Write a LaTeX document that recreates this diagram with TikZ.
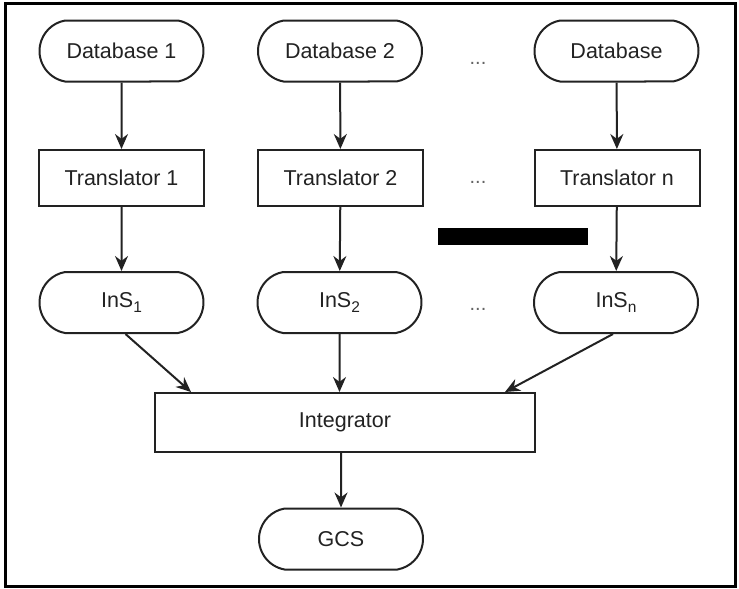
\documentclass[tikz,border=0pt]{standalone}
\usepackage{fontspec}
\setmainfont{Liberation Sans}
\usetikzlibrary{arrows.meta,shapes.misc}
\definecolor{ink}{HTML}{222222}
\newcommand{\lowsub}[1]{\raisebox{-5.5pt}{\fontsize{15.5}{16}\selectfont #1}}
\tikzset{
  x=1pt,y=-1pt,
  base/.style={draw=ink,line width=2pt,text=ink,font=\fontsize{21.5}{24}\selectfont,inner sep=0pt},
  pill/.style={base,rounded rectangle,rounded rectangle arc length=160,minimum width=164pt,minimum height=61pt},
  boxnode/.style={base,rectangle,minimum width=165pt,minimum height=56pt},
  dots/.style={text=ink!70,font=\fontsize{20}{22}\selectfont,inner sep=0pt},
  conn/.style={draw=ink,line width=2pt,-{Stealth[length=15pt,width=13pt]}}
}
\begin{document}
\begin{tikzpicture}
\useasboundingbox (0,0) rectangle (739,589);
\draw[line width=3pt] (5,3) rectangle (735,586);
% row 1
\node[pill] (db1) at (121.5,51) {Database 1};
\node[pill] (db2) at (340,51) {Database 2};
\node[pill] (dbn) at (616.5,51) {Database};
\node[dots] (d1) at (478,63) {...};
% row 2
\node[boxnode] (tr1) at (121.5,178) {Translator 1};
\node[boxnode] (tr2) at (340.5,178) {Translator 2};
\node[boxnode] (trn) at (617,178) {Translator n};
\node[dots] (d2) at (478,182) {...};
% redaction bar
\fill[black] (438,228) rectangle (588,245);
% row 3
\node[pill] (ins1) at (121.5,302.5) {InS\lowsub{1}};
\node[pill] (ins2) at (339.5,302.5) {InS\lowsub{2}};
\node[pill] (insn) at (616,302.5) {InS\lowsub{n}};
\node[dots] (d3) at (478,309) {...};
% integrator and GCS
\node[base,rectangle,minimum width=380pt,minimum height=59pt] (integ) at (345,422.5) {Integrator};
\node[pill] (gcs) at (341,539) {GCS};
% connectors
\draw[conn] (db1) -- (tr1);
\draw[conn] (db2) -- (tr2);
\draw[conn] (dbn) -- (trn);
\draw[conn] (tr1) -- (ins1);
\draw[conn] (tr2) -- (ins2);
\draw[conn] (trn) -- (insn);
\draw[conn] ([xshift=4pt]ins1.south) -- ([xshift=37pt]integ.north west);
\draw[conn] (ins2) -- (ins2 |- integ.north);
\draw[conn] ([xshift=-3pt]insn.south) -- ([xshift=-31pt]integ.north east);
\draw[conn] (integ.south -| gcs) -- (gcs);
\end{tikzpicture}
\end{document}
